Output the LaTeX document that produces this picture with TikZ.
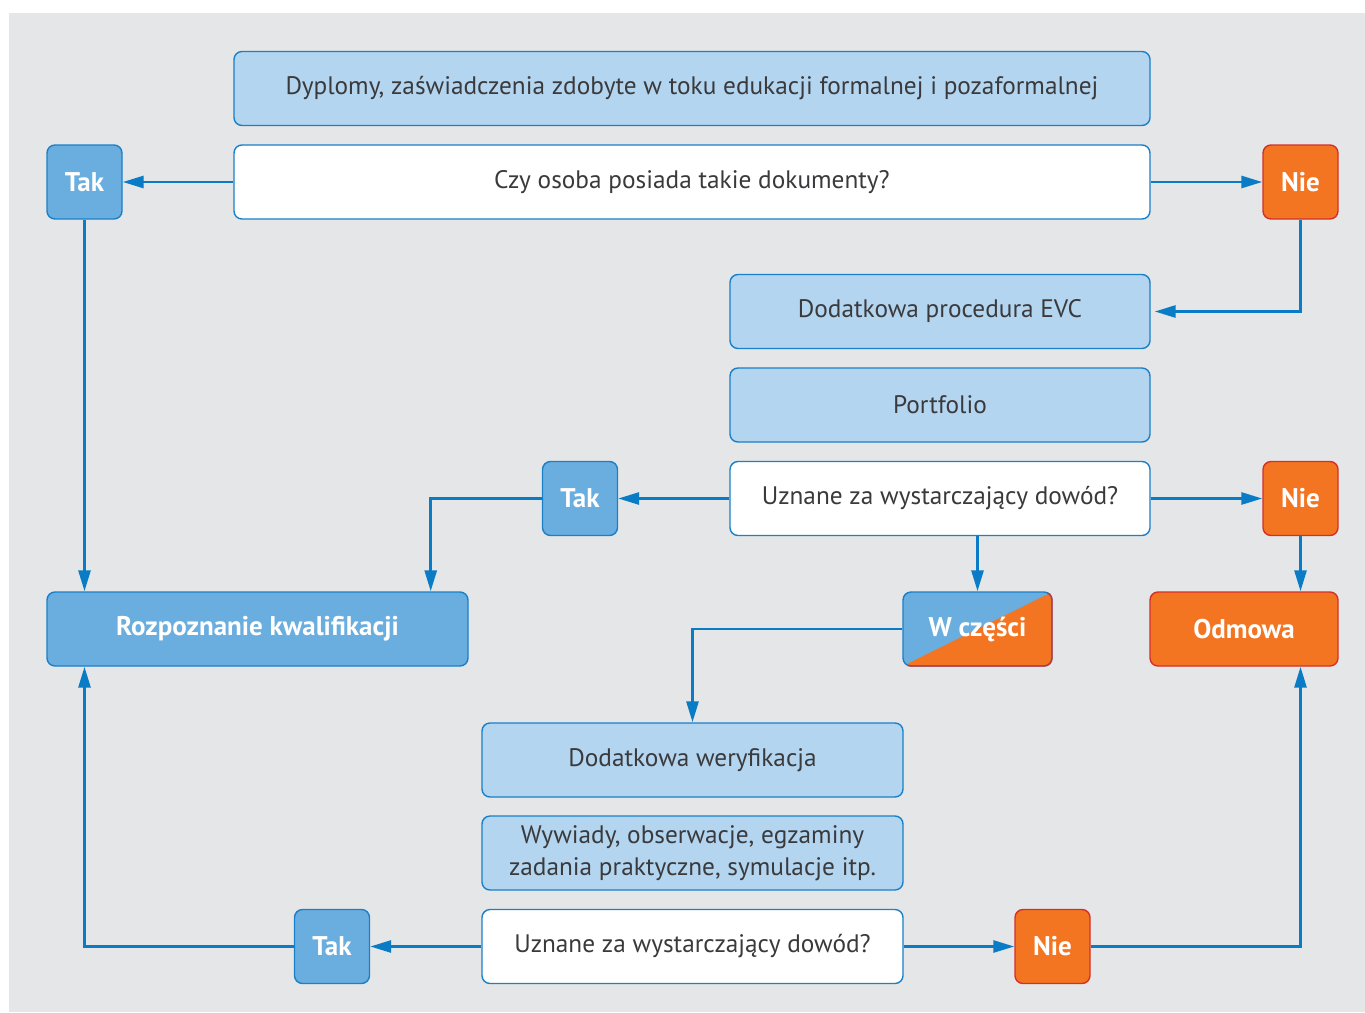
\documentclass[tikz,border=0pt]{standalone}
\usepackage{fontspec}
\setmainfont{PT Sans}
\usetikzlibrary{arrows.meta}
\definecolor{bggrey}{HTML}{E5E6E8}
\definecolor{lightfill}{HTML}{B3D5F0}
\definecolor{edgeblue}{HTML}{1A80C8}
\definecolor{midblue}{HTML}{6AADDF}
\definecolor{flowblue}{HTML}{0A7CC6}
\definecolor{orangefill}{HTML}{F47521}
\definecolor{orangeedge}{HTML}{D3302C}
\definecolor{textgrey}{HTML}{3A3A3C}

\begin{document}
\begin{tikzpicture}[x=1pt,y=-1pt,
  box/.style={rounded corners=8pt, line width=1.4pt, draw=edgeblue, align=center,
    inner sep=0pt, font=\fontsize{25.3}{32}\selectfont, text=textgrey},
  info/.style={box, fill=lightfill},
  question/.style={box, fill=white},
  answer/.style={box, text=white, font=\fontsize{27}{30}\selectfont\bfseries},
  yes/.style={answer, fill=midblue},
  no/.style={answer, fill=orangefill, draw=orangeedge},
  wide/.style={minimum width=916pt, minimum height=74pt},
  mid/.style={minimum width=420pt, minimum height=74pt},
  small/.style={minimum width=75pt, minimum height=74pt},
  flow/.style={draw=flowblue, line width=2.8pt, -{Triangle[length=21pt,width=12pt]}},
]
\useasboundingbox (0,0) rectangle (1365,1012);
\fill[bggrey] (9,13) rectangle (1365,1012);

% first question: documents
\node[info, wide] (docs) at (692,88.5) {Dyplomy, zaświadczenia zdobyte w toku edukacji formalnej i pozaformalnej};
\node[question, wide] (q1) at (692,182) {Czy osoba posiada takie dokumenty?};
\node[yes, small] (tak1) at (84.5,182) {Tak};
\node[no, small] (nie1) at (1300.5,182) {Nie};

% EVC procedure
\node[info, mid] (evc) at (940,311.5) {Dodatkowa procedura EVC};
\node[info, mid] (port) at (940,405) {Portfolio};
\node[question, mid] (q2) at (940,498.5) {Uznane za wystarczający dowód?};
\node[yes, small] (tak2) at (580,498.5) {Tak};
\node[no, small] (nie2) at (1300.5,498.5) {Nie};

% outcomes
\node[yes, minimum width=421pt, minimum height=74pt] (rozp) at (257.5,629) {Rozpoznanie kwalifikacji};
\node[no, minimum width=188pt, minimum height=74pt] (odm) at (1244,629) {Odmowa};

% partial recognition: half blue, half orange
\begin{scope}
  \clip[rounded corners=8pt] (903,592) rectangle (1052,666);
  \fill[midblue] (903,592) rectangle (1052,666);
  \fill[orangefill] (903,666) -- (1052,666) -- (1052,592) -- cycle;
\end{scope}
\draw[edgeblue, line width=1.4pt, rounded corners=8pt] (903,592) rectangle (1052,666);
\begin{scope}
  \clip (903,668) -- (1054,668) -- (1054,590) -- cycle;
  \draw[orangeedge, line width=1.4pt, rounded corners=8pt] (903,592) rectangle (1052,666);
\end{scope}
\node[answer, draw=none, minimum width=149pt, minimum height=74pt] (wcz) at (977.5,629) {W części};

% additional verification
\node[info, mid, minimum width=421pt] (ver) at (692.5,760) {Dodatkowa weryfikacja};
\node[info, mid, minimum width=421pt] (meth) at (692.5,853) {Wywiady, obserwacje, egzaminy\\zadania praktyczne, symulacje itp.};
\node[question, mid, minimum width=421pt] (q3) at (692.5,946.5) {Uznane za wystarczający dowód?};
\node[yes, small] (tak3) at (332,946.5) {Tak};
\node[no, small] (nie3) at (1052.5,946.5) {Nie};

% connectors
\draw[flow] (q1.west) -- (tak1.east);
\draw[flow] (q1.east) -- (nie1.west);
\draw[flow] (nie1.south) |- ([xshift=4pt]evc.east);
\draw[flow] (tak1.south) -- (tak1.south |- rozp.north);

\draw[flow] (q2.west) -- (tak2.east);
\draw[flow] (tak2.west) -| ([xshift=-38pt]rozp.north east);
\draw[flow] (q2.east) -- (nie2.west);
\draw[flow] (nie2.south) -- (nie2.south |- odm.north);
\draw[flow] (wcz.north |- q2.south) -- (wcz.north);
\draw[flow] (wcz.west) -| (ver.north);

\draw[flow] (q3.west) -- (tak3.east);
\draw[flow] (tak3.west) -| (tak1.south |- rozp.south);
\draw[flow] (q3.east) -- (nie3.west);
\draw[flow] (nie3.east) -| (nie2.south |- odm.south);
\end{tikzpicture}
\end{document}
